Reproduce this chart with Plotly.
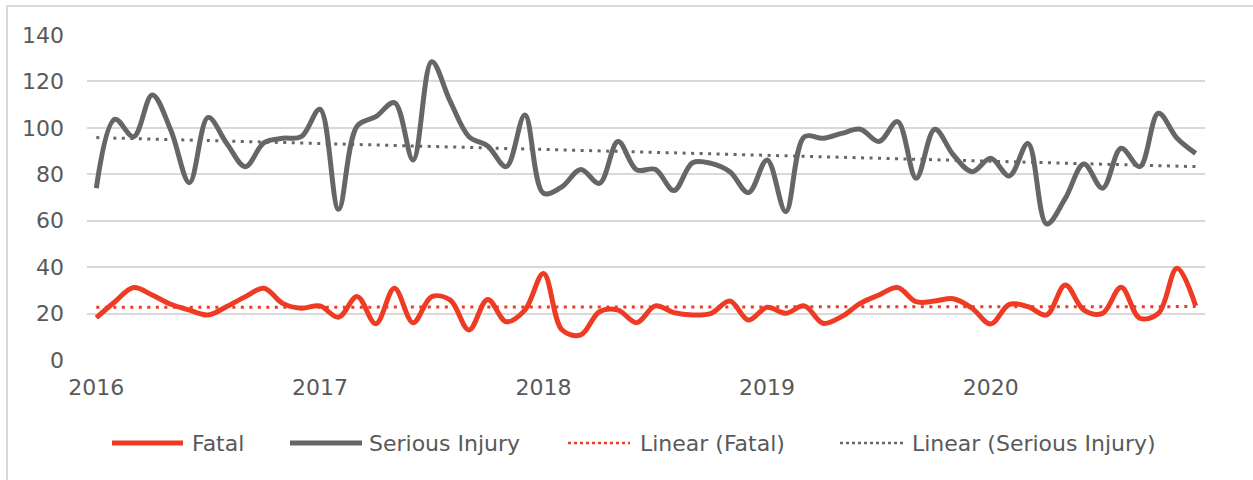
import plotly.graph_objects as go

# monthly counts, Jan 2016 .. Dec 2020
months = list(range(60))
year_ticks = [0, 12, 24, 36, 48]
year_labels = ["2016", "2017", "2018", "2019", "2020"]

serious = [74.0, 103.7, 96.2, 114.2, 99.0, 76.4, 104.5, 93.3, 83.3, 93.6, 95.5, 96.2,
           108.0, 64.9, 100.8, 104.8, 110.9, 86.2, 128.5, 111.3, 96.2, 92.2, 83.3, 105.5,
           71.8, 74.7, 82.1, 76.1, 94.1, 81.9, 82.1, 73.0, 85.0, 84.7, 81.1, 72.1,
           86.2, 63.9, 96.2, 95.5, 97.6, 99.4, 94.1, 102.7, 78.3, 99.4, 88.3, 81.1,
           86.9, 79.3, 93.3, 58.6, 69.6, 84.4, 74.0, 91.2, 83.3, 106.3, 95.5, 89.0]

fatal = [18.2, 25.1, 31.2, 28.0, 24.0, 21.5, 19.4, 23.0, 27.3, 30.9, 24.4, 22.3,
         23.3, 18.4, 27.3, 15.6, 30.9, 16.1, 27.3, 25.8, 12.9, 26.1, 16.5, 21.5,
         37.3, 12.9, 10.8, 20.8, 21.5, 16.1, 23.3, 20.4, 19.4, 20.1, 25.4, 17.2,
         22.7, 20.1, 23.3, 15.8, 18.7, 24.4, 28.0, 31.2, 25.1, 25.4, 26.4, 22.3,
         15.5, 24.0, 23.0, 19.4, 32.3, 21.5, 20.1, 31.3, 18.0, 20.1, 39.5, 23.3]

# trend line end points (first and last month)
trend_x = [0, 59]
fatal_trend = [22.7, 23.0]
serious_trend = [95.8, 83.3]

RED = "#ee3b24"
GREY = "#686565"
TEXT = "#595959"
GRID = "#d9d9d9"
FONT = "DejaVu Sans"
FSIZE = 22

W, H = 1253, 480
L, R, T, B = 87, 48, 35, 120

fig = go.Figure()
fig.add_trace(go.Scatter(x=months, y=fatal, mode="lines", name="Fatal",
                         line=dict(color=RED, width=5, shape="spline", smoothing=1)))
fig.add_trace(go.Scatter(x=months, y=serious, mode="lines", name="Serious Injury",
                         line=dict(color=GREY, width=5, shape="spline", smoothing=1)))
fig.add_trace(go.Scatter(x=trend_x, y=fatal_trend, mode="lines", name="Linear (Fatal)",
                         line=dict(color=RED, width=3, dash="3px,5.5px")))
fig.add_trace(go.Scatter(x=trend_x, y=serious_trend, mode="lines", name="Linear (Serious Injury)",
                         line=dict(color=GREY, width=3, dash="3px,5.5px")))


def px_x(p):
    return (p - L) / (W - L - R)


def px_y(p):
    return (H - B - p) / (H - T - B)


# legend drawn by hand so the swatches match the long Excel samples
legend_items = [
    ("Fatal", RED, 5, "solid", 112, 183, 190),
    ("Serious Injury", GREY, 5, "solid", 290, 362, 367),
    ("Linear (Fatal)", RED, 2.5, "dot", 568, 630, 638),
    ("Linear (Serious Injury)", GREY, 2.5, "dot", 840, 903, 910),
]
ly = 443
for name, col, w, dash, x0, x1, tx in legend_items:
    fig.add_shape(type="line", xref="paper", yref="paper",
                  x0=px_x(x0), x1=px_x(x1), y0=px_y(ly), y1=px_y(ly),
                  line=dict(color=col, width=w, dash=dash))
    fig.add_annotation(text=name, xref="paper", yref="paper", x=px_x(tx), y=px_y(ly),
                       xanchor="left", yanchor="middle", showarrow=False,
                       font=dict(family=FONT, size=FSIZE, color=TEXT))

# outer chart border (top and left visible)
fig.add_shape(type="rect", xref="paper", yref="paper",
              x0=px_x(7), x1=px_x(1300), y0=px_y(540), y1=px_y(6),
              line=dict(color=GRID, width=2), layer="below")

fig.update_layout(
    width=W, height=H,
    margin=dict(l=L, r=R, t=T, b=B),
    paper_bgcolor="white", plot_bgcolor="white",
    showlegend=False,
    font=dict(family=FONT, size=FSIZE, color=TEXT),
    xaxis=dict(range=[-0.5, 59.5], tickvals=year_ticks, ticktext=year_labels,
               showgrid=False, zeroline=False, showline=False, ticks="",
               ticklabelstandoff=12),
    yaxis=dict(range=[0, 140], dtick=20, showgrid=True, gridcolor=GRID, gridwidth=2,
               zeroline=False, showline=False, ticks="", ticklabelstandoff=22),
)

# page body margin would shift the figure by 8px
fig.write_html("out.html", config={"displayModeBar": False},
               post_script="document.body.style.margin = '0';")
